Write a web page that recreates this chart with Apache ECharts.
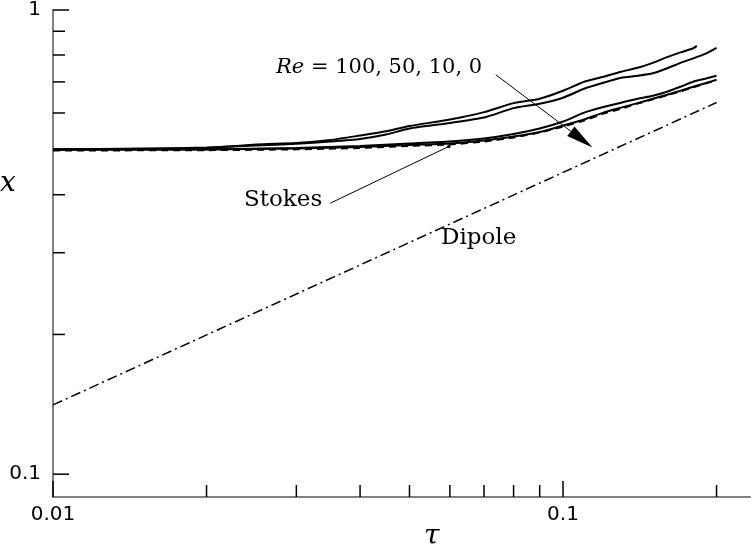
<!DOCTYPE html>
<html>
<head>
<meta charset="utf-8">
<script src="https://cdn.jsdelivr.net/npm/echarts@6/dist/echarts.min.js"></script>
<style>
  html, body { margin: 0; padding: 0; background: #fff; }
  #chart { width: 753px; height: 547px; }
</style>
</head>
<body>
<div id="chart"></div>
<script>
// Re = 100 and Re = 50 (wavy upper pair)
const tauRe100 = [0.01, 0.015, 0.02, 0.025, 0.03, 0.035, 0.04, 0.045, 0.05, 0.06, 0.07, 0.08, 0.09, 0.1, 0.11, 0.12, 0.13, 0.14, 0.15, 0.16, 0.17, 0.18, 0.183]
const xRe100 = [0.5006, 0.5031, 0.5044, 0.5132, 0.517, 0.5248, 0.5366, 0.548, 0.5624, 0.5808, 0.6026, 0.630, 0.644, 0.670, 0.7005, 0.718, 0.736, 0.7507, 0.7695, 0.7917, 0.8106, 0.827, 0.837]
const tauRe50 = [0.01, 0.015, 0.02, 0.025, 0.03, 0.035, 0.04, 0.045, 0.05, 0.06, 0.07, 0.08, 0.09, 0.1, 0.11, 0.12, 0.13, 0.14, 0.15, 0.16, 0.17, 0.18, 0.19, 0.2]
const xRe50 = [0.5006, 0.5019, 0.5056, 0.5107, 0.515, 0.5209, 0.5274, 0.5392, 0.5555, 0.571, 0.5865, 0.6146, 0.6284, 0.6473, 0.6767, 0.697, 0.7145, 0.7216, 0.7305, 0.749, 0.7695, 0.7868, 0.8046, 0.8288]
// Re = 10, Re = 0 and Stokes (lower group)
const tauLow = [0.01, 0.02, 0.03, 0.04, 0.05, 0.06, 0.07, 0.08, 0.09, 0.1, 0.11, 0.12, 0.13, 0.14, 0.15, 0.16, 0.17, 0.18, 0.19, 0.2]
const xRe10 = [0.5006, 0.5013, 0.5044, 0.5095, 0.5157, 0.5209, 0.5287, 0.5405, 0.5555, 0.575, 0.601, 0.618, 0.6315, 0.644, 0.6538, 0.6668, 0.6834, 0.7005, 0.711, 0.7216]
const xRe0 = [0.5006, 0.5006, 0.5031, 0.5069, 0.512, 0.5157, 0.5235, 0.5339, 0.546, 0.5638, 0.5808, 0.601, 0.6162, 0.63, 0.644, 0.657, 0.670, 0.6834, 0.6953, 0.7075]
const xStokes = [0.4981, 0.4989, 0.501, 0.5044, 0.5095, 0.5132, 0.5209, 0.5313, 0.5446, 0.561, 0.578, 0.5982, 0.613, 0.6284, 0.642, 0.655, 0.668, 0.6817, 0.694, 0.706]
// dipole asymptote
const tauDipole = [0.01, 0.2]
const xDipole = [0.141, 0.632]

// axes
const tauMin = 0.01, tauMax = 0.2326
const xMin = 0.0893, xMax = 1
const tauMajorTicks = [0.01, 0.1]
const tauMinorTicks = [0.02, 0.03, 0.04, 0.05, 0.06, 0.07, 0.08, 0.09, 0.2]
const xMajorTicks = [0.1, 1]
const xMinorTicks = [0.2, 0.3, 0.4, 0.5, 0.6, 0.7, 0.8, 0.9]
const tauLabels = ['0.01', '0.1']
const xLabels = ['0.1', '1']

// annotation anchors (data coords)
const reArrow = [[0.0738, 0.7254], [0.1142, 0.5057]]
const stokesLeader = [[0.03496, 0.3835], [0.0597, 0.5082]]

const zip = (a, b) => a.map((v, i) => [v, b[i]])

const chart = echarts.init(document.getElementById('chart'))

function labelFmt (list) {
  return v => {
    const hit = list.find(s => Math.abs(Number(s) - v) < 1e-9)
    return hit || ''
  }
}

function curve (name, data, type) {
  return {
    name: name,
    type: 'line',
    data: data,
    showSymbol: false,
    smooth: 0.2,
    silent: true,
    lineStyle: {color: '#000', width: 2, type: type || 'solid'},
    z: 3
  }
}

// ticks drawn inside the axes; major ones longer
function xTicks (values, len) {
  return {
    type: 'custom',
    silent: true,
    clip: false,
    z: 5,
    data: values.map(v => [v, xMin]),
    renderItem: (params, api) => {
      const p = api.coord([api.value(0), xMin])
      return {type: 'line', shape: {x1: p[0], y1: p[1], x2: p[0], y2: p[1] - len}, style: {stroke: '#000', lineWidth: 1.5}}
    }
  }
}
function yTicks (values, len) {
  return {
    type: 'custom',
    silent: true,
    clip: false,
    z: 5,
    data: values.map(v => [tauMin, v]),
    renderItem: (params, api) => {
      const p = api.coord([tauMin, api.value(1)])
      return {type: 'line', shape: {x1: p[0], y1: p[1], x2: p[0] + len, y2: p[1]}, style: {stroke: '#000', lineWidth: 1.5}}
    }
  }
}

const option = {
  animation: false,
  backgroundColor: '#fff',
  grid: {left: 53, top: 8, right: 1, bottom: 50},
  xAxis: {
    type: 'log',
    logBase: 10,
    min: tauMin,
    max: tauMax,
    axisLine: {lineStyle: {color: '#808080', width: 2}},
    axisTick: {show: false},
    axisLabel: {
      formatter: labelFmt(tauLabels),
      fontFamily: 'DejaVu Sans', fontSize: 20, color: '#000', margin: 8
    },
    splitLine: {show: false}
  },
  yAxis: {
    type: 'log',
    logBase: 10,
    min: xMin,
    max: xMax,
    axisLine: {lineStyle: {color: '#808080', width: 2}},
    axisTick: {show: false},
    axisLabel: {
      formatter: labelFmt(xLabels),
      fontFamily: 'DejaVu Sans', fontSize: 20, color: '#000', margin: 12
    },
    splitLine: {show: false}
  },
  series: [
    curve('Re=100', zip(tauRe100, xRe100)),
    curve('Re=50', zip(tauRe50, xRe50)),
    curve('Re=10', zip(tauLow, xRe10)),
    curve('Re=0', zip(tauLow, xRe0)),
    curve('Stokes', zip(tauLow, xStokes), [7, 5]),
    {
      name: 'Dipole',
      type: 'line',
      data: zip(tauDipole, xDipole),
      showSymbol: false,
      silent: true,
      lineStyle: {color: '#000', width: 1.5, type: [10, 4, 2, 4]}
    },
    xTicks(tauMajorTicks, 16),
    xTicks(tauMinorTicks, 12),
    yTicks(xMajorTicks, 16),
    yTicks(xMinorTicks, 12)
  ]
}
chart.setOption(option)

// annotations placed from data coords
const px = p => chart.convertToPixel({gridIndex: 0}, p)
const a0 = px(reArrow[0]), a1 = px(reArrow[1])
const dx = a1[0] - a0[0], dy = a1[1] - a0[1]
const len = Math.sqrt(dx * dx + dy * dy)
const ux = dx / len, uy = dy / len
const headLen = 27, headW = 6
const base = [a1[0] - ux * headLen, a1[1] - uy * headLen]
const s0 = px(stokesLeader[0]), s1 = px(stokesLeader[1])
const serif = 'DejaVu Serif'

chart.setOption({
  graphic: [
    {type: 'line', shape: {x1: a0[0], y1: a0[1], x2: base[0], y2: base[1]}, style: {stroke: '#000', lineWidth: 1}},
    {
      type: 'polygon',
      shape: {points: [a1, [base[0] - uy * headW, base[1] + ux * headW], [base[0] + uy * headW, base[1] - ux * headW]]},
      style: {fill: '#000'}
    },
    {type: 'line', shape: {x1: s0[0], y1: s0[1], x2: s1[0], y2: s1[1]}, style: {stroke: '#000', lineWidth: 1}},
    {type: 'circle', shape: {cx: s1[0], cy: s1[1], r: 1.8}, style: {fill: '#000'}},
    {
      type: 'text', left: 276, top: 57,
      style: {
        text: '{i|Re} = 100, 50, 10, 0',
        font: '21px "DejaVu Serif"',
        fill: '#000',
        rich: {i: {fontFamily: serif, fontStyle: 'italic', fontSize: 21}}
      }
    },
    {type: 'text', left: 244, top: 189, style: {text: 'Stokes', font: '23px "DejaVu Serif"', fill: '#000'}},
    {type: 'text', left: 441, top: 227, style: {text: 'Dipole', font: '23px "DejaVu Serif"', fill: '#000'}},
    {type: 'text', left: 0, top: 170, style: {text: 'x', font: 'italic 28px "DejaVu Serif"', fill: '#000'}},
    {type: 'text', left: 424, top: 523, style: {text: 'τ', font: 'italic 28px "DejaVu Serif"', fill: '#000'}}
  ]
})
</script>
</body>
</html>
